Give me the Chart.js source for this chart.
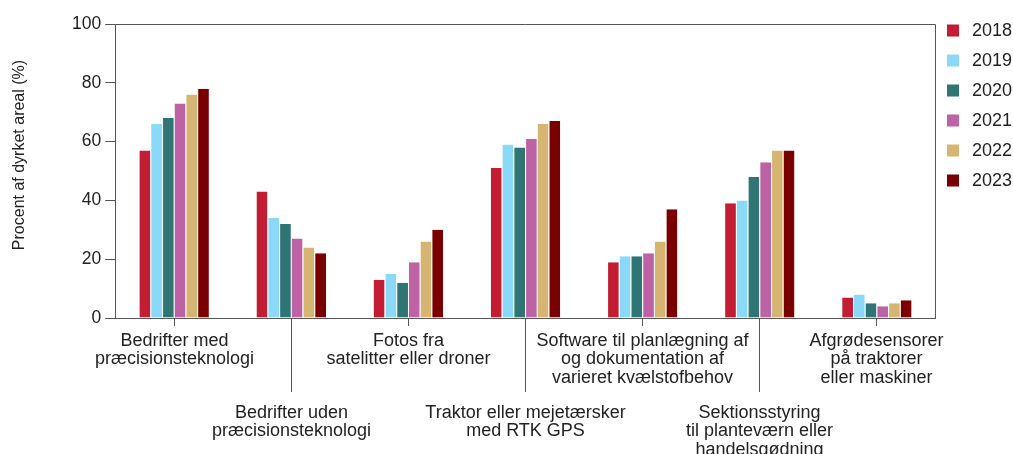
<!DOCTYPE html>
<html>
<head>
<meta charset="utf-8">
<script src="https://cdn.jsdelivr.net/npm/chart.js@4/dist/chart.umd.min.js"></script>
<style>
  html, body { margin: 0; padding: 0; background: #fff; overflow: hidden; }
  #wrap { width: 1013px; height: 454px; position: relative; }
</style>
</head>
<body>
<div id="wrap"><canvas id="chart"></canvas></div>
<script>
const categories = [
    ['Bedrifter med', 'præcisionsteknologi'],
    ['Bedrifter uden', 'præcisionsteknologi'],
    ['Fotos fra', 'satelitter eller droner'],
    ['Traktor eller mejetærsker', 'med RTK GPS'],
    ['Software til planlægning af', 'og dokumentation af', 'varieret kvælstofbehov'],
    ['Sektionsstyring', 'til planteværn eller', 'handelsgødning'],
    ['Afgrødesensorer', 'på traktorer', 'eller maskiner']
];
const years = ['2018', '2019', '2020', '2021', '2022', '2023'];
const values2018 = [57, 43, 13, 51, 19, 39, 7];
const values2019 = [66, 34, 15, 59, 21, 40, 8];
const values2020 = [68, 32, 12, 58, 21, 48, 5];
const values2021 = [73, 27, 19, 61, 22, 53, 4];
const values2022 = [76, 24, 26, 66, 26, 57, 5];
const values2023 = [78, 22, 30, 67, 37, 57, 6];
const colors = ['#c21d32', '#8ad9f8', '#2e7574', '#be62a6', '#d6b573', '#7a0000'];
const yTitle = 'Procent af dyrket areal (%)';

const FONT = '"Liberation Sans", Arial, sans-serif';
const AXIS = '#555';
const TEXT = '#222';

// draws the box border, staggered category labels with their tick lines, y title and legend
const catLabels = {
    id: 'catLabels',
    afterDraw(chart) {
        const { ctx, chartArea, scales: { x } } = chart;
        ctx.save();
        ctx.strokeStyle = AXIS;
        ctx.lineWidth = 1;
        ctx.beginPath();
        ctx.moveTo(chartArea.left, Math.round(chartArea.top) + 0.5);
        ctx.lineTo(Math.round(chartArea.right) + 0.5, Math.round(chartArea.top) + 0.5);
        ctx.lineTo(Math.round(chartArea.right) + 0.5, chartArea.bottom);
        ctx.stroke();

        ctx.font = '18px ' + FONT;
        ctx.fillStyle = TEXT;
        ctx.textAlign = 'center';
        ctx.textBaseline = 'middle';
        categories.forEach((lines, i) => {
            const px = Math.round(x.getPixelForValue(i)) + 0.5;
            const low = i % 2 === 1;
            ctx.beginPath();
            ctx.moveTo(px, chartArea.bottom);
            ctx.lineTo(px, chartArea.bottom + (low ? 74 : 8));
            ctx.stroke();
            const y0 = chartArea.bottom + (low ? 95 : 23);
            lines.forEach((t, j) => ctx.fillText(t, px, y0 + j * 18.5));
        });

        // legend
        ctx.textAlign = 'left';
        const lx = chartArea.right + 12;
        years.forEach((yr, i) => {
            const cy = 30.5 + i * 30;
            ctx.fillStyle = colors[i];
            ctx.fillRect(lx, cy - 6, 12, 12);
            ctx.fillStyle = TEXT;
            ctx.fillText(yr, lx + 25, cy + 1);
        });

        // y axis title
        ctx.font = '16px ' + FONT;
        ctx.translate(20, 155);
        ctx.rotate(-Math.PI / 2);
        ctx.textAlign = 'center';
        ctx.fillText(yTitle, 0, 0);
        ctx.restore();
    }
};

const series = [values2018, values2019, values2020, values2021, values2022, values2023];

new Chart(document.getElementById('chart'), {
    type: 'bar',
    data: {
        labels: categories.map(c => c.join(' ')),
        datasets: years.map((y, i) => ({
            label: y,
            data: series[i],
            backgroundColor: colors[i],
            borderColor: '#ffffff',
            borderWidth: { left: 1, right: 0, top: 0, bottom: 0 },
            borderSkipped: false
        }))
    },
    options: {
        responsive: true,
        maintainAspectRatio: false,
        animation: false,
        layout: { padding: { left: 68, top: 24, bottom: 128, right: 78 } },
        datasets: { bar: { categoryPercentage: 0.6, barPercentage: 1 } },
        plugins: {
            tooltip: { enabled: false },
            legend: { display: false }
        },
        scales: {
            x: {
                ticks: { display: false },
                grid: { display: false },
                border: { display: true, color: AXIS }
            },
            y: {
                min: 0,
                max: 100,
                ticks: { stepSize: 20, color: TEXT, padding: 4, font: { family: FONT, size: 17.5 } },
                grid: { drawOnChartArea: false, tickLength: 10, color: AXIS },
                border: { color: AXIS }
            }
        }
    },
    plugins: [catLabels]
});
</script>
</body>
</html>
